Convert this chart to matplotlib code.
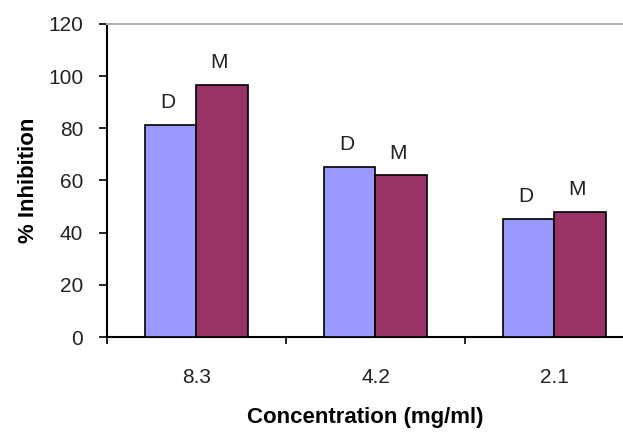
import numpy as np
import matplotlib.pyplot as plt

plt.rcParams['font.family'] = ['Liberation Sans', 'DejaVu Sans']

# data
concentrations = ["8.3", "4.2", "2.1"]
series_names = ["D", "M"]
d_values = [81.2, 65.3, 45.2]
m_values = [96.8, 62.0, 47.9]
colors = ["#9999ff", "#993366"]

fig = plt.figure(figsize=(6.23, 4.33), dpi=100)
ax = fig.add_axes([0.1717, 0.2217, 0.8283, 0.7229])

x = np.arange(len(concentrations))
w = 0.288
for i, (vals, name) in enumerate(zip([d_values, m_values], series_names)):
    pos = x + (i - 0.5) * w
    ax.bar(pos, vals, width=w, color=colors[i], edgecolor="black", linewidth=1.2, zorder=3)
    for p, v in zip(pos, vals):
        ax.annotate(name, (p, v), xytext=(-2, 16), textcoords="offset points",
                    ha="center", va="center", fontsize=15, color="#222222")

ax.set_yticks(range(0, 121, 20))
ax.set_xticks(x)
ax.set_xticklabels(concentrations)
ax.set_xticks(np.arange(-0.5, 3, 1), minor=True)
ax.set_xlim(-0.5, 2.383)
ax.set_ylim(0, 120)
ax.tick_params(axis="x", which="major", length=0, pad=22, labelsize=15, labelcolor="#222222")
ax.tick_params(axis="x", which="minor", length=5, width=1.2, direction="out")
ax.tick_params(axis="y", length=6, width=1.2, direction="out", pad=11, labelsize=15, labelcolor="#222222")

for s in ["left", "bottom"]:
    ax.spines[s].set_linewidth(1.5)
ax.spines["top"].set_color("#b0b0b0")
ax.spines["top"].set_linewidth(1.5)
ax.spines["right"].set_visible(False)

ax.set_ylabel("% Inhibition", fontsize=16, fontweight="bold", labelpad=7)
ax.set_xlabel("Concentration (mg/ml)", fontsize=16, fontweight="bold", labelpad=15)

fig.savefig("out.png", dpi=100)
